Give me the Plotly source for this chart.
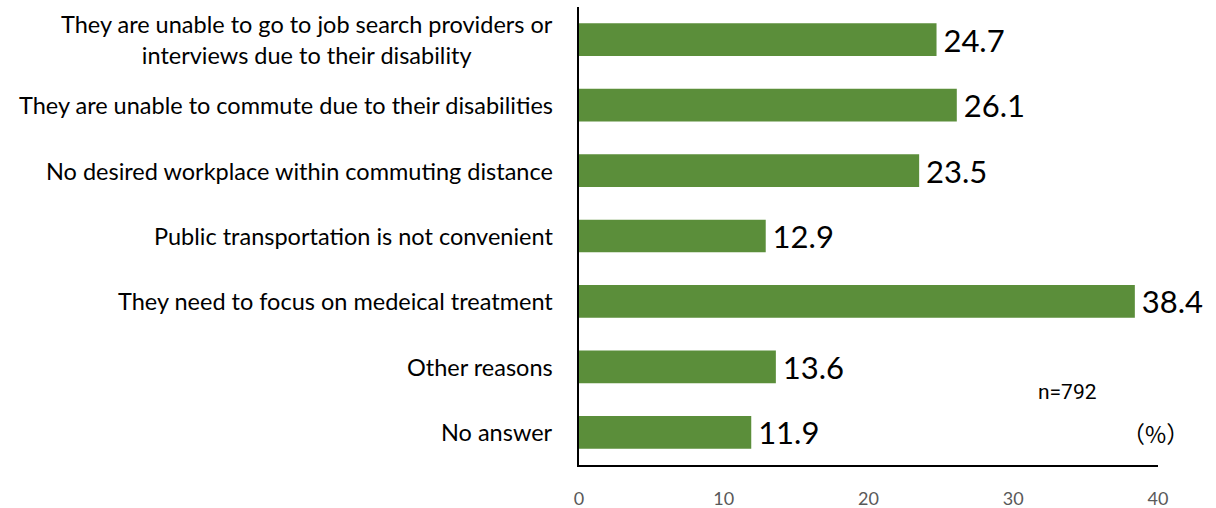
import plotly.graph_objects as go

categories = [
    "They are unable to go to job search providers or<br>interviews due to their disability",
    "They are unable to commute due to their disabilities",
    "No desired workplace within commuting distance",
    "Public transportation is not convenient",
    "They need to focus on medeical treatment",
    "Other reasons",
    "No answer",
]
values = [24.7, 26.1, 23.5, 12.9, 38.4, 13.6, 11.9]
value_labels = [f"{v:.1f}" for v in values]
x_ticks = [0, 10, 20, 30, 40]

BAR_GREEN = "#5B8E3A"
FONT = "Lato"

W, H = 1216, 508
ML, MR, MT, MB = 579, 58, 7, 43
PW, PH = W - ML - MR, H - MT - MB


def paper_x(px):
    return (px - ML) / PW


def paper_y(py):
    return 1 - (py - MT) / PH


fig = go.Figure(
    go.Bar(
        y=categories,
        x=values,
        orientation="h",
        marker=dict(color=BAR_GREEN, line=dict(width=0)),
        width=0.5,
        text=value_labels,
        texttemplate="\u2009%{text}",
        textposition="outside",
        constraintext="none",
        cliponaxis=False,
        textfont=dict(family=FONT, size=31, color="#000000"),
    )
)

# category labels: drawn as annotations so the wrapped label stays centred
annotations = [
    dict(
        text=c, x=0, xref="paper", y=c, yref="y",
        xanchor="right", yanchor="middle", xshift=-24,
        align="center", showarrow=False,
        font=dict(family=FONT, size=23.5, color="#000000"),
    )
    for c in categories
]
annotations += [
    dict(text="n=792", x=paper_x(1067), y=paper_y(392), xref="paper", yref="paper",
         xanchor="center", yanchor="middle", showarrow=False,
         font=dict(family="Roboto", size=21, color="#000000")),
    dict(text="（%）", x=paper_x(1155), y=paper_y(433), xref="paper", yref="paper",
         xanchor="center", yanchor="middle", showarrow=False,
         font=dict(family="Noto Sans CJK JP", size=23, color="#000000")),
]

fig.update_layout(
    width=W,
    height=H,
    margin=dict(l=ML, r=MR, t=MT, b=MB),
    paper_bgcolor="white",
    plot_bgcolor="white",
    showlegend=False,
    xaxis=dict(
        range=[0, 40],
        tickvals=x_ticks,
        ticks="",
        automargin=False,
        showgrid=False,
        zeroline=False,
        showline=True,
        linecolor="#000000",
        linewidth=1.5,
        tickfont=dict(family=FONT, size=18, color="#595959"),
        ticklabelstandoff=17,
    ),
    yaxis=dict(
        autorange="reversed",
        ticks="",
        automargin=False,
        showticklabels=False,
        showgrid=False,
        showline=True,
        linecolor="#000000",
        linewidth=1.5,
    ),
    annotations=annotations,
)

fig.write_html("out.html")
